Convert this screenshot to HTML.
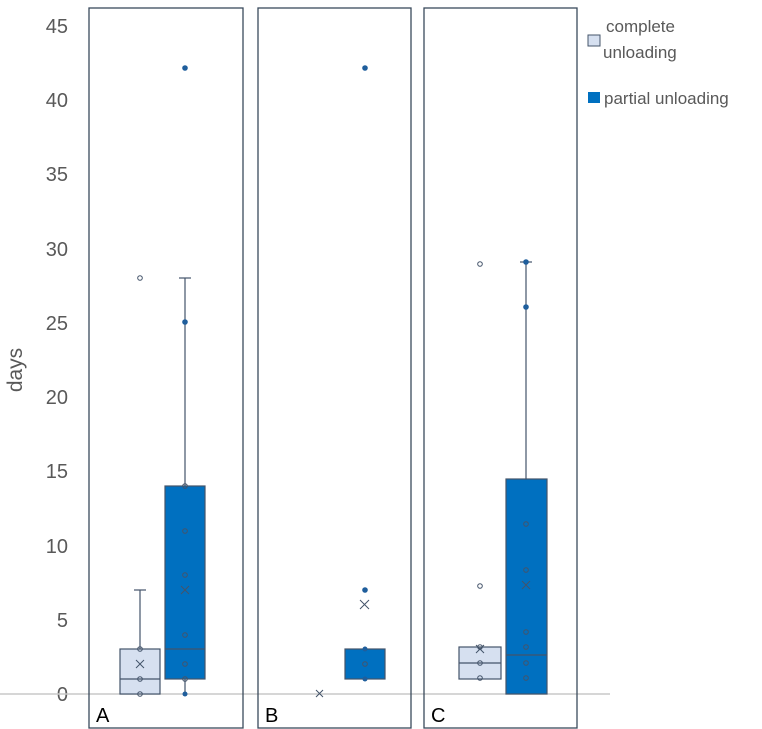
<!DOCTYPE html>
<html><head><style>body{margin:0;background:#fff}svg{display:block}</style></head><body>
<svg width="762" height="729" xmlns="http://www.w3.org/2000/svg" font-family="Liberation Sans, sans-serif">
<g fill="#595959" font-size="20" text-anchor="end">
<text x="68" y="701">0</text><text x="68" y="627">5</text><text x="68" y="553">10</text><text x="68" y="478">15</text><text x="68" y="404">20</text><text x="68" y="330">25</text><text x="68" y="256">30</text><text x="68" y="181">35</text><text x="68" y="107">40</text><text x="68" y="33">45</text>
</g>
<text transform="translate(22,370) rotate(-90)" fill="#595959" font-size="21" text-anchor="middle">days</text>
<line x1="0" y1="694" x2="610" y2="694" stroke="#c8c8c8" stroke-width="1.5"/>
<g fill="none" stroke="#3A4A5C" stroke-width="1.3">
<rect x="89" y="8" width="154" height="720"/><rect x="258" y="8" width="153" height="720"/><rect x="424" y="8" width="153" height="720"/>
</g>
<g font-size="20" fill="#000"><text x="96" y="722">A</text><text x="265" y="722">B</text><text x="431" y="722">C</text></g>
<g stroke="#44546A" stroke-width="1.2">
<line x1="140" y1="590" x2="140" y2="649"/><line x1="134" y1="590" x2="146" y2="590"/>
<rect x="120" y="649" width="40" height="45" fill="#D6E0F0"/><line x1="120" y1="679" x2="160" y2="679"/>
<line x1="185" y1="278" x2="185" y2="486"/><line x1="179" y1="278" x2="191" y2="278"/><line x1="185" y1="679" x2="185" y2="694"/>
<rect x="165" y="486" width="40" height="193" fill="#0070C0"/><line x1="165" y1="649" x2="205" y2="649"/>
<rect x="345" y="649" width="40" height="30" fill="#0070C0"/>
<rect x="459" y="647" width="42" height="32" fill="#D6E0F0"/><line x1="459" y1="663" x2="501" y2="663"/>
<line x1="526" y1="262" x2="526" y2="479"/><line x1="520" y1="262" x2="532" y2="262"/>
<rect x="506" y="479" width="41" height="215" fill="#0070C0"/><line x1="506" y1="655" x2="547" y2="655"/>
</g>
<g fill="none" stroke="#44546A" stroke-width="1">
<circle cx="140" cy="278" r="2.3"/><circle cx="140" cy="649" r="2.3"/><circle cx="140" cy="679" r="2.3"/><circle cx="140" cy="694" r="2.3"/>
<circle cx="185" cy="486" r="2.3"/><circle cx="185" cy="531" r="2.3"/><circle cx="185" cy="575" r="2.3"/><circle cx="185" cy="635" r="2.3"/><circle cx="185" cy="664" r="2.3"/><circle cx="185" cy="679" r="2.3"/>
<circle cx="365" cy="664" r="2.3"/>
<circle cx="480" cy="264" r="2.3"/><circle cx="480" cy="586" r="2.3"/><circle cx="480" cy="647" r="2.3"/><circle cx="480" cy="663" r="2.3"/><circle cx="480" cy="678" r="2.3"/>
<circle cx="526" cy="524" r="2.3"/><circle cx="526" cy="570" r="2.3"/><circle cx="526" cy="632" r="2.3"/><circle cx="526" cy="647" r="2.3"/><circle cx="526" cy="663" r="2.3"/><circle cx="526" cy="678" r="2.3"/>
<path d="M136 660l8 8M144 660l-8 8M181 586l8 8M189 586l-8 8M360 600l9 9M369 600l-9 9M316 690l7 7M323 690l-7 7M476 645l8 8M484 645l-8 8M522 581l8 8M530 581l-8 8"/>
</g>
<g fill="#1F5E9C">
<circle cx="185" cy="68" r="2.8"/><circle cx="185" cy="322" r="2.8"/><circle cx="185" cy="694" r="2.5"/>
<circle cx="365" cy="68" r="2.8"/><circle cx="365" cy="590" r="2.8"/><circle cx="365" cy="649" r="2.5"/><circle cx="365" cy="679" r="2.5"/>
<circle cx="526" cy="262" r="2.8"/><circle cx="526" cy="307" r="2.8"/>
</g>
<rect x="588" y="35" width="12" height="11" fill="#D6E0F0" stroke="#44546A"/>
<rect x="588" y="92" width="12" height="11" fill="#0070C0"/>
<g fill="#595959" font-size="17">
<text x="606" y="32">complete</text><text x="603" y="58">unloading</text><text x="604" y="104">partial unloading</text>
</g>
</svg>
</body></html>
